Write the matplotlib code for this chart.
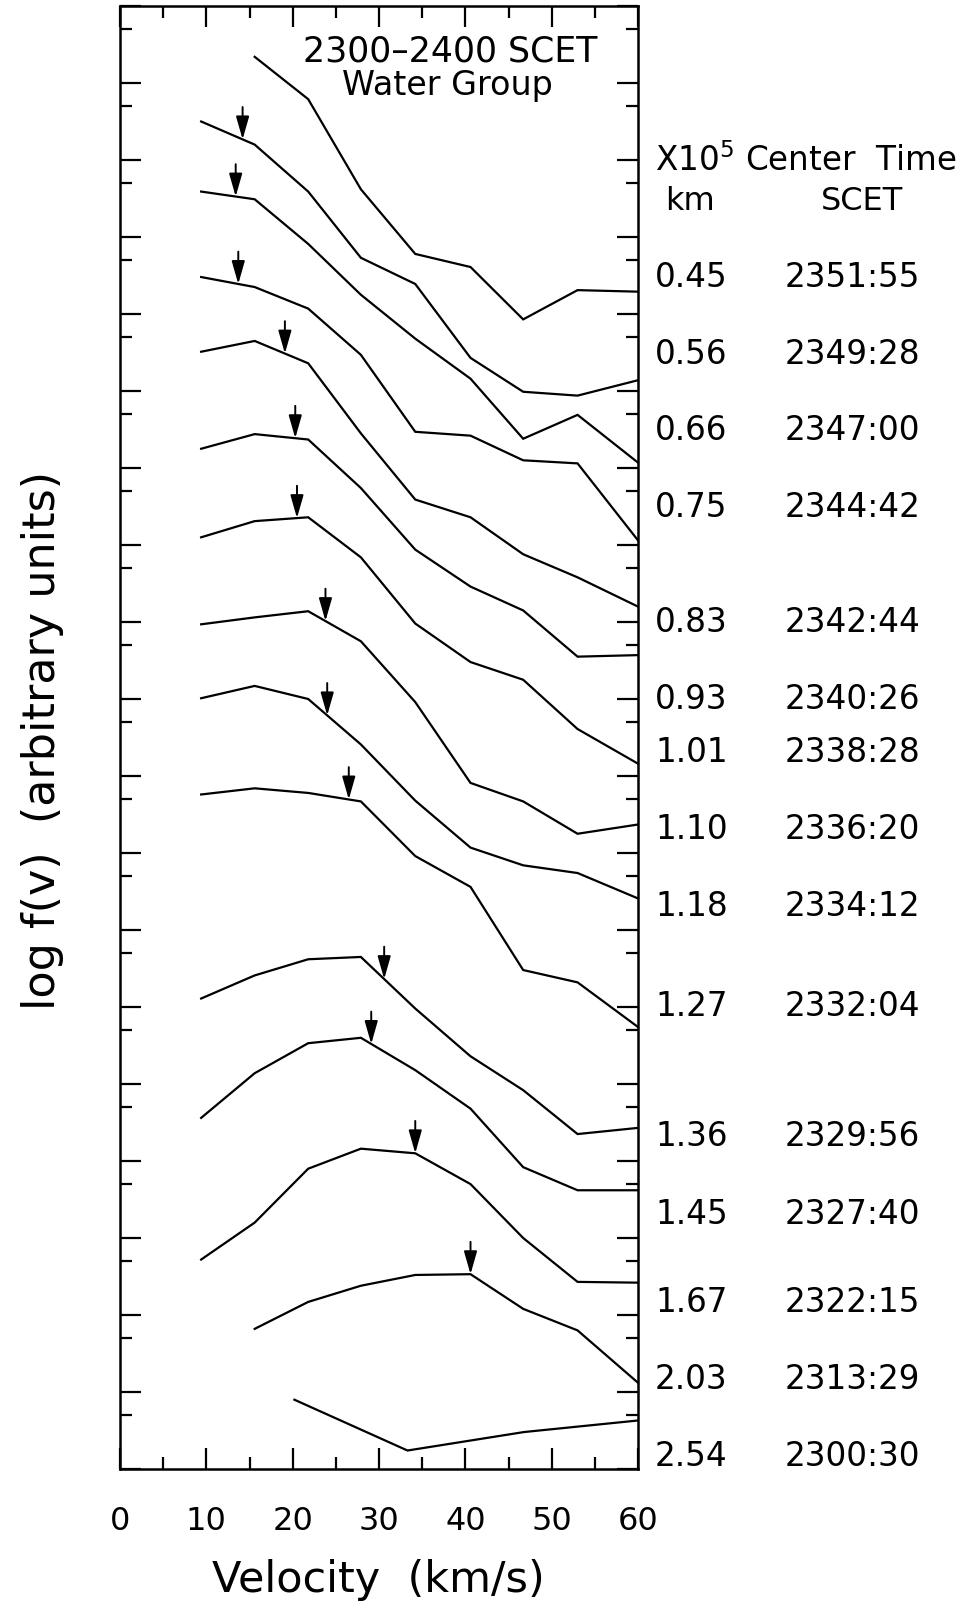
import matplotlib
matplotlib.use("Agg")
import matplotlib.pyplot as plt
import numpy as np
from matplotlib.transforms import blended_transform_factory

plt.rcParams['font.family'] = ['DejaVu Sans']
plt.rcParams['mathtext.default'] = 'regular'

# ---------------- data ----------------
VELOCITY = [9.4, 15.6, 21.8, 27.9, 34.2, 40.6, 46.7, 53.0, 60.0]   # km/s
VELOCITY_254 = [20.2, 33.3, 46.8, 60.0]                              # km/s (last spectrum)
NA = np.nan

LOGF_045 = [NA, 18.34, 17.79, 16.62, 15.78, 15.61, 14.93, 15.31, 15.29]
LOGF_056 = [17.50, 17.20, 16.59, 15.73, 15.39, 14.43, 13.99, 13.94, 14.14]
LOGF_066 = [16.59, 16.49, 15.91, 15.25, 14.68, 14.16, 13.38, 13.69, 13.07]
LOGF_075 = [15.48, 15.35, 15.07, 14.47, 13.47, 13.42, 13.10, 13.06, 12.06]
LOGF_083 = [14.51, 14.65, 14.36, 13.45, 12.59, 12.36, 11.88, 11.58, 11.20]
LOGF_093 = [13.25, 13.44, 13.37, 12.74, 11.94, 11.46, 11.15, 10.55, 10.57]
LOGF_101 = [12.10, 12.31, 12.36, 11.84, 10.98, 10.48, 10.25, 9.61, 9.16]
LOGF_110 = [10.97, 11.06, 11.14, 10.75, 9.96, 8.91, 8.67, 8.25, 8.37]
LOGF_118 = [10.01, 10.17, 10.00, 9.41, 8.68, 8.07, 7.84, 7.74, 7.41]
LOGF_127 = [8.76, 8.84, 8.78, 8.67, 7.96, 7.56, 6.48, 6.32, 5.74]
LOGF_136 = [6.11, 6.41, 6.62, 6.65, 5.98, 5.36, 4.92, 4.35, 4.43]
LOGF_145 = [4.56, 5.14, 5.53, 5.60, 5.18, 4.68, 3.92, 3.62, 3.62]
LOGF_167 = [2.72, 3.20, 3.90, 4.16, 4.10, 3.70, 3.00, 2.43, 2.42]
LOGF_203 = [NA, 1.82, 2.17, 2.38, 2.52, 2.53, 2.08, 1.80, 1.12]
LOGF_254 = [0.90, 0.24, 0.48, 0.63]

DIST_KM = ['0.45', '0.56', '0.66', '0.75', '0.83', '0.93', '1.01', '1.10',
           '1.18', '1.27', '1.36', '1.45', '1.67', '2.03', '2.54']
CENTER_TIME = ['2351:55', '2349:28', '2347:00', '2344:42', '2342:44', '2340:26',
               '2338:28', '2336:20', '2334:12', '2332:04', '2329:56', '2327:40',
               '2322:15', '2313:29', '2300:30']
# velocity marked by the arrow on each spectrum (None = no arrow)
ARROW_V = [None, 14.2, 13.4, 13.7, 19.1, 20.3, 20.5, 23.8, 24.0, 26.5,
           30.6, 29.1, 34.2, 40.6, None]

X_MAJOR = [0, 10, 20, 30, 40, 50, 60]
X_MINOR = [5, 15, 25, 35, 45, 55]
Y_MAJOR = list(range(0, 20))
Y_MINOR = [k + 0.699 for k in range(19)]

CURVES = [LOGF_045, LOGF_056, LOGF_066, LOGF_075, LOGF_083, LOGF_093, LOGF_101,
          LOGF_110, LOGF_118, LOGF_127, LOGF_136, LOGF_145, LOGF_167, LOGF_203,
          LOGF_254]
CURVE_V = [VELOCITY] * 14 + [VELOCITY_254]

# ---------------- layout ----------------
W, H = 971, 1602
fig = plt.figure(figsize=(W / 100, H / 100), dpi=100)
ax = fig.add_axes([120 / W, 133 / H, 518 / W, 1463 / H])
ax.set_xlim(0, 60)
ax.set_ylim(0, 19)

for v, y in zip(CURVE_V, CURVES):
    ax.plot(v, y, color='black', lw=1.6, solid_joinstyle='miter')

for v_arr, v, y in zip(ARROW_V, CURVE_V, CURVES):
    if v_arr is None:
        continue
    yy = np.array(y, dtype=float)
    vv = np.array(v, dtype=float)
    ok = ~np.isnan(yy)
    y_at = np.interp(v_arr, vv[ok], yy[ok])
    ax.annotate('', xy=(v_arr, y_at), xytext=(v_arr, y_at + 0.42),
                arrowprops=dict(arrowstyle='-|>,head_length=0.7,head_width=0.2',
                                color='black', lw=1.4, mutation_scale=20,
                                shrinkA=0, shrinkB=0))

ax.set_xticks(X_MAJOR)
ax.set_xticks(X_MINOR, minor=True)
ax.set_yticks(Y_MAJOR)
ax.set_yticks(Y_MINOR, minor=True)
ax.tick_params(which='both', direction='in', top=True, right=True, width=1.6)
ax.tick_params(which='major', length=15)
ax.tick_params(which='minor', length=8.5)
ax.tick_params(axis='y', labelleft=False)
ax.tick_params(axis='x', labelsize=23, pad=27)
for s in ax.spines.values():
    s.set_linewidth(1.8)

def px(x, y):
    return x / W, 1 - y / H

fig.text(*px(450, 51), '2300–2400 SCET', ha='center', va='center', fontsize=25)
fig.text(*px(447, 85), 'Water Group', ha='center', va='center', fontsize=24)
fig.text(*px(43, 741), 'log f(v)  (arbitrary units)', rotation=90,
         ha='center', va='center', fontsize=32)
fig.text(*px(378, 1580), 'Velocity  (km/s)', ha='center', va='center', fontsize=31)

fig.text(*px(655, 161), 'X10$^5$ Center  Time', ha='left', va='center', fontsize=23.5)
fig.text(*px(690, 201), 'km', ha='center', va='center', fontsize=23)
fig.text(*px(862, 201), 'SCET', ha='center', va='center', fontsize=23)

LABEL_Y = [15.48, 14.47, 13.49, 12.49, 10.99, 9.99, 9.30, 8.30, 7.30, 6.01,
           4.32, 3.31, 2.16, 1.16, 0.16]
trans = blended_transform_factory(ax.transAxes, ax.transData)
for ly, km, t in zip(LABEL_Y, DIST_KM, CENTER_TIME):
    ax.text(1.033, ly, km, transform=trans, ha='left', va='center', fontsize=23.5,
            clip_on=False)
    ax.text(1.284, ly, t, transform=trans, ha='left', va='center', fontsize=23.5,
            clip_on=False)

fig.savefig('out.png', dpi=100)
